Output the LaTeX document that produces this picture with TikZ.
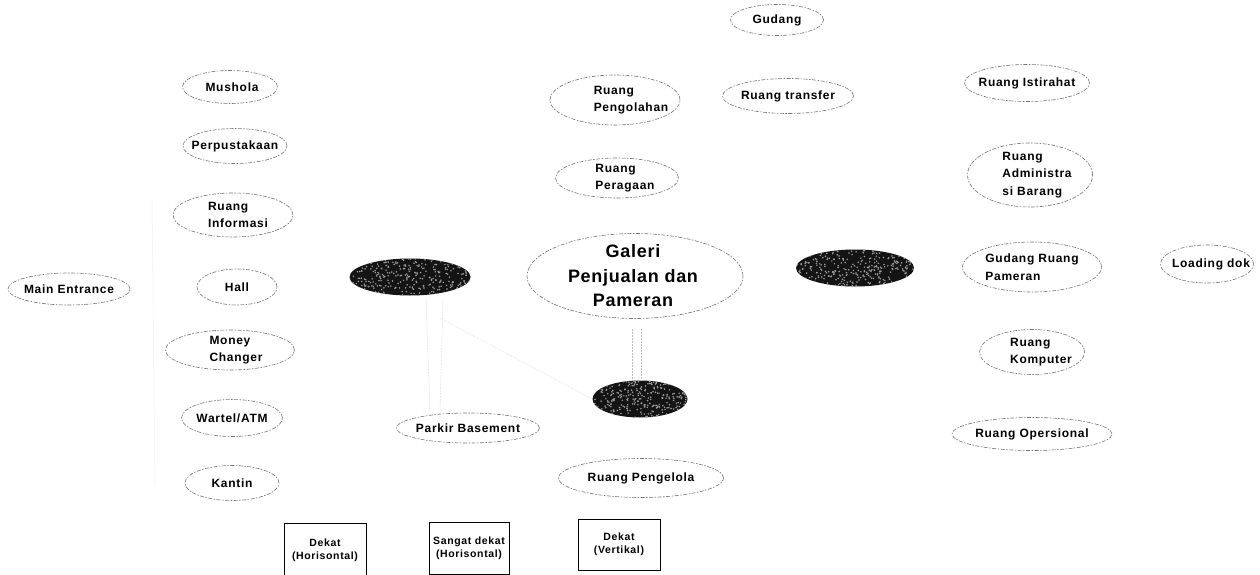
\documentclass[tikz,border=0pt]{standalone}
\usepackage{fontspec}
\setmainfont{Liberation Sans}[LetterSpace=6]
\usetikzlibrary{shapes.geometric,calc}
\newcommand\elbl[7]{%
  \node[ell, minimum width=#4pt, minimum height=#5pt] (#1) at (#2,#3) {};
  \node[lbl] (#1-t) at ($(#1)+(#6,0)$) {#7};}
\newcommand\darkel[5]{%
  \node[darkell, minimum width=#4pt, minimum height=#5pt] (#1) at (#2,#3) {};
  \begin{scope}
    \clip (#2,#3) ellipse [x radius=#4pt/2, y radius=#5pt/2];
    \foreach \i in {1,...,320}
      \fill[black!38] ($(#2,#3)+(rand*#4/2, rand*#5/2)$) circle (0.85pt);
  \end{scope}}
\begin{document}
\begin{tikzpicture}[x=1pt,y=-1pt,
  ell/.style={ellipse, draw=black!55, line width=0.6pt,
    dash pattern=on 4pt off 1.5pt on 1.5pt off 1.5pt, inner sep=0pt},
  darkell/.style={ellipse, fill=black!92, inner sep=0pt},
  lbl/.style={font=\fontsize{12}{17.5}\selectfont\bfseries, align=left, inner sep=0pt},
  big/.style={font=\fontsize{18}{24.5}\selectfont\bfseries\addfontfeature{LetterSpace=4}, align=center, inner sep=0pt},
  boxn/.style={draw=black, line width=0.8pt, inner sep=0pt, align=center,
    font=\fontsize{10.5}{13}\selectfont\bfseries},
  link/.style={draw=black!25, line width=0.5pt, densely dotted}
]
\pgfmathsetseed{7}
\useasboundingbox (0,0) rectangle (1260,575);

% left column
\elbl{mush}{230}{87}{95}{33}{2}{Mushola}
\elbl{perp}{235}{146}{104}{35}{0}{Perpustakaan}
\elbl{info}{233}{215}{120}{44}{5}{Ruang\\Informasi}
\elbl{hall}{237}{287}{80}{36}{0}{Hall}
\elbl{main}{69}{289}{122}{32}{0}{Main Entrance}
\elbl{money}{230}{350}{129}{40}{6}{Money\\Changer}
\elbl{wartel}{232}{418}{101}{37}{0}{Wartel/ATM}
\elbl{kantin}{232}{483}{94}{35}{0}{Kantin}
\elbl{park}{468}{428}{143}{30}{0}{Parkir Basement}

% centre column
\elbl{gud}{777}{20}{93}{31}{0}{Gudang}
\elbl{olah}{615}{100}{130}{50}{16}{Ruang\\Pengolahan}
\elbl{raga}{617}{178}{123}{40}{8}{Ruang\\Peragaan}
\elbl{trans}{788}{96}{131}{35}{0}{Ruang transfer}
\node[ell, minimum width=216pt, minimum height=85pt] (gal) at (635,276) {};
\node[big] (gal-t) at ($(gal)+(-2,0)$) {Galeri\\Penjualan dan\\Pameran};
\elbl{kelola}{641}{478}{165}{39}{0}{Ruang Pengelola}

% right column
\elbl{istir}{1027}{83}{125}{37}{0}{Ruang Istirahat}
\elbl{admin}{1030}{175}{125}{64}{7}{Ruang\\Administra\\si Barang}
\elbl{gpam}{1032}{267}{139}{50}{0}{Gudang Ruang\\Pameran}
\elbl{load}{1207}{264}{93}{38}{4}{Loading dok}
\elbl{komp}{1032}{352}{105}{45}{9}{Ruang\\Komputer}
\elbl{ops}{1032}{434}{160}{33}{0}{Ruang Opersional}

% dark zones
\darkel{d1}{410}{277}{121}{37}
\darkel{d2}{855}{268}{118}{37}
\darkel{d3}{640}{399}{95}{37}

% faint connectors
\coordinate (c1) at (440,318);
\coordinate (l1) at (152,200);
\coordinate (l2) at (155,486);
\draw[link] ($(d1.south)+(16,3)$) -- ($(park.north)+(-38,0)$);
\draw[link] ($(d1.south)+(33,3)$) -- ($(park.north)+(-28,0)$);
\draw[link] ($(gal.south)+(-3,10)$) -- ($(d3.north)+(-8,0)$);
\draw[link] ($(gal.south)+(6,10)$) -- ($(d3.north)+(1,0)$);
\draw[link, draw=black!18] (c1) -- (d3.west);
\draw[link, draw=black!15] (l1) -- (l2);

% legend boxes
\node[boxn, minimum width=82pt, minimum height=54pt] (b1) at (325,550) {Dekat\\(Horisontal)};
\node[boxn, minimum width=80pt, minimum height=52pt] (b2) at (469,548) {Sangat dekat\\(Horisontal)};
\node[boxn, minimum width=82pt, minimum height=51pt] (b3) at (619,544.5) {Dekat\\(Vertikal)};
\end{tikzpicture}
\end{document}
